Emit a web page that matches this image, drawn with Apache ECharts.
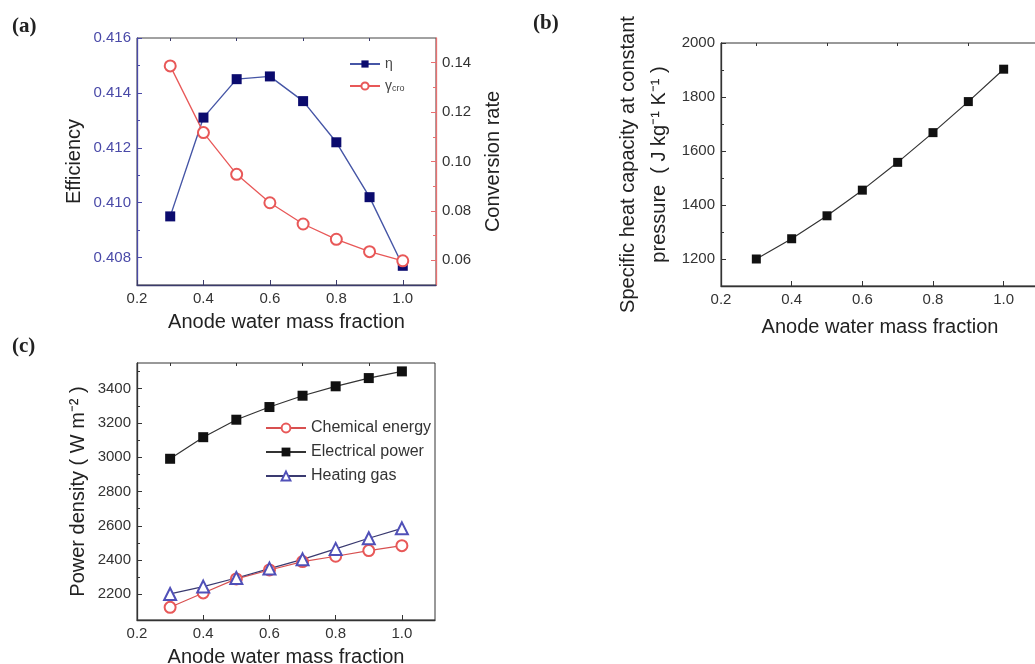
<!DOCTYPE html>
<html><head><meta charset="utf-8">
<script src="https://cdn.jsdelivr.net/npm/echarts@6/dist/echarts.min.js"></script>
<style>html,body{margin:0;padding:0;background:#fff}#c{width:1035px;height:664px}</style>
</head><body><div id="c"></div>
<script>
// ---- shared x axis ----
const xValues = [0.3, 0.4, 0.5, 0.6, 0.7, 0.8, 0.9, 1.0];
const xTickLabels = [0.2, 0.4, 0.6, 0.8, 1.0];
const xMinorTicks = [0.3, 0.5, 0.7, 0.9];
// ---- (a) ----
const efficiency = [0.4095, 0.4131, 0.4145, 0.4146, 0.4137, 0.4122, 0.4102, 0.4077];
const conversionRate = [0.1387, 0.1117, 0.0948, 0.0833, 0.0747, 0.0685, 0.0635, 0.0598];
const effTicks = [0.408, 0.410, 0.412, 0.414, 0.416];
const effMinor = [0.409, 0.411, 0.413, 0.415];
const convTicks = [0.06, 0.08, 0.10, 0.12, 0.14];
const convMinor = [0.07, 0.09, 0.11, 0.13];
// ---- (b) ----
const heatCapacity = [1200, 1275, 1360, 1455, 1558, 1668, 1783, 1903];
const cpTicks = [1200, 1400, 1600, 1800, 2000];
const cpMinor = [1300, 1500, 1700, 1900];
// ---- (c) ----
const chemicalEnergy = [2124, 2208, 2290, 2342, 2391, 2422, 2455, 2484];
const electricalPower = [2991, 3117, 3219, 3293, 3359, 3414, 3462, 3501];
const heatingGas = [2202, 2245, 2295, 2350, 2404, 2465, 2527, 2585];
const pdTicks = [2200, 2400, 2600, 2800, 3000, 3200, 3400];
const pdMinor = [2300, 2500, 2700, 2900, 3100, 3300, 3500];

const FONT = '"Liberation Sans", Arial, sans-serif';
const pairs = ys => xValues.map((x, i) => [x, ys[i]]);

function majorAxis(o) {
  return {
    type: 'value', gridIndex: o.grid, position: o.position, min: o.min, max: o.max,
    name: o.name, nameLocation: 'middle', nameGap: o.nameGap,
    nameTextStyle: Object.assign({fontFamily: FONT, fontSize: 20, color: '#222', lineHeight: 31}, o.nameStyle || {}),
    axisLine: {show: true, lineStyle: {color: o.color || '#333', width: 1.3}},
    axisTick: {show: true, inside: true, length: 5, customValues: o.ticks, lineStyle: {color: o.color || '#333'}},
    axisLabel: {show: true, customValues: o.ticks, margin: 6, fontFamily: FONT, fontSize: 15,
      color: o.labelColor || '#333', formatter: o.fmt},
    splitLine: {show: false}
  };
}
function minorAxis(o) {
  return {
    type: 'value', gridIndex: o.grid, position: o.position, min: o.min, max: o.max,
    axisLine: {show: false},
    axisTick: {show: true, inside: true, length: 3, customValues: o.ticks, lineStyle: {color: o.color || '#333'}},
    axisLabel: {show: false}, splitLine: {show: false}
  };
}
const f1 = v => v.toFixed(1), f2 = v => v.toFixed(2), f3 = v => v.toFixed(3), f0 = v => Math.round(v).toString();

const xAxes = [
  majorAxis({grid: 0, min: 0.2, max: 1.1, ticks: xTickLabels, fmt: f1, name: 'Anode water mass fraction', nameGap: 21, color: '#3b3b6b'}),
  minorAxis({grid: 0, min: 0.2, max: 1.1, ticks: xMinorTicks, color: '#3b3b6b'}),
  majorAxis({grid: 1, min: 0.2, max: 1.1, ticks: xTickLabels, fmt: f1, name: 'Anode water mass fraction', nameGap: 26}),
  minorAxis({grid: 1, min: 0.2, max: 1.1, ticks: xMinorTicks}),
  majorAxis({grid: 2, min: 0.2, max: 1.1, ticks: xTickLabels, fmt: f1, name: 'Anode water mass fraction', nameGap: 20}),
  minorAxis({grid: 2, min: 0.2, max: 1.1, ticks: xMinorTicks})
];
const yAxes = [
  majorAxis({grid: 0, position: 'left', min: 0.407, max: 0.416, ticks: effTicks, fmt: f3, name: 'Efficiency', nameGap: 47, color: '#4a4aa8', labelColor: '#4a4aa8'}),
  minorAxis({grid: 0, position: 'left', min: 0.407, max: 0.416, ticks: effMinor, color: '#4a4aa8'}),
  majorAxis({grid: 0, position: 'right', min: 0.05, max: 0.15, ticks: convTicks, fmt: f2, name: 'Conversion rate', nameGap: 42, color: '#e87070', labelColor: '#333'}),
  minorAxis({grid: 0, position: 'right', min: 0.05, max: 0.15, ticks: convMinor, color: '#e87070'}),
  majorAxis({grid: 1, position: 'left', min: 1100, max: 2000, ticks: cpTicks, fmt: f0, name: 'Specific heat capacity at constant\npressure  ( J kg\u207B\u00B9 K\u207B\u00B9 )', nameGap: 46}),
  minorAxis({grid: 1, position: 'left', min: 1100, max: 2000, ticks: cpMinor}),
  majorAxis({grid: 2, position: 'left', min: 2050, max: 3550, ticks: pdTicks, fmt: f0, name: 'Power density ( W m\u207B\u00B2 )', nameGap: 37}),
  minorAxis({grid: 2, position: 'left', min: 2050, max: 3550, ticks: pdMinor})
];

const gridBase = {show: true, borderWidth: 1, backgroundColor: '#fff', outerBoundsMode: 'none', containLabel: false};
const option = {
  animation: false,
  backgroundColor: '#fff',
  textStyle: {fontFamily: FONT},
  grid: [
    Object.assign({left: 137, top: 38, width: 299, height: 247, borderColor: '#444'}, gridBase),
    Object.assign({left: 721, top: 43, width: 318, height: 243, borderColor: '#333'}, gridBase),
    Object.assign({left: 137, top: 363, width: 298, height: 257, borderColor: '#333'}, gridBase)
  ],
  xAxis: xAxes,
  yAxis: yAxes,
  legend: [
    {data: ['η', 'γcro'], left: 344, top: 52, orient: 'vertical', itemWidth: 30, itemHeight: 9, itemGap: 8,
      textStyle: {fontSize: 14, color: '#444', rich: {g: {fontSize: 14, color: '#444'}, s: {fontSize: 9, color: '#444', verticalAlign: 'bottom', padding: [6, 0, 0, 0]}}},
      formatter: n => n === 'γcro' ? '{g|γ}{s|cro}' : n},
    {data: ['Chemical energy', 'Electrical power', 'Heating gas'], left: 260, top: 415, orient: 'vertical',
      itemWidth: 40, itemHeight: 11, itemGap: 8, textStyle: {fontSize: 16, color: '#333'}}
  ],
  graphic: [
    {type: 'text', left: 12, top: 16, style: {text: '(a)', font: 'bold 21px "Liberation Serif", serif', fill: '#222'}},
    {type: 'text', left: 533, top: 13, style: {text: '(b)', font: 'bold 21px "Liberation Serif", serif', fill: '#222'}},
    {type: 'text', left: 12, top: 336, style: {text: '(c)', font: 'bold 21px "Liberation Serif", serif', fill: '#222'}}
  ],
  series: [
    {name: 'η', type: 'line', xAxisIndex: 0, yAxisIndex: 0, data: pairs(efficiency), symbol: 'rect', symbolSize: 10,
      itemStyle: {color: '#0b0b6e'}, lineStyle: {color: '#4656a6', width: 1.4}},
    {name: 'γcro', type: 'line', xAxisIndex: 0, yAxisIndex: 2, data: pairs(conversionRate), symbol: 'emptyCircle', symbolSize: 11,
      itemStyle: {color: '#e85858', borderWidth: 1.2}, lineStyle: {color: '#e85858', width: 1.3}},
    {name: 'Cp', type: 'line', xAxisIndex: 2, yAxisIndex: 4, data: pairs(heatCapacity), symbol: 'rect', symbolSize: 9,
      itemStyle: {color: '#111'}, lineStyle: {color: '#333', width: 1.2}},
    {name: 'Chemical energy', type: 'line', xAxisIndex: 4, yAxisIndex: 6, data: pairs(chemicalEnergy), symbol: 'emptyCircle', symbolSize: 11,
      itemStyle: {color: '#e85858', borderWidth: 1.2}, lineStyle: {color: '#d85050', width: 1.2}},
    {name: 'Electrical power', type: 'line', xAxisIndex: 4, yAxisIndex: 6, data: pairs(electricalPower), symbol: 'rect', symbolSize: 10,
      itemStyle: {color: '#111'}, lineStyle: {color: '#333', width: 1.2}},
    {name: 'Heating gas', type: 'line', xAxisIndex: 4, yAxisIndex: 6, data: pairs(heatingGas), symbol: 'emptyTriangle', symbolSize: 12,
      itemStyle: {color: '#5050b8', borderWidth: 1.2}, lineStyle: {color: '#3a3a70', width: 1.2}}
  ]
};
const chart = echarts.init(document.getElementById('c'), null, {renderer: 'canvas'});
chart.setOption(option);
</script>
</body></html>
